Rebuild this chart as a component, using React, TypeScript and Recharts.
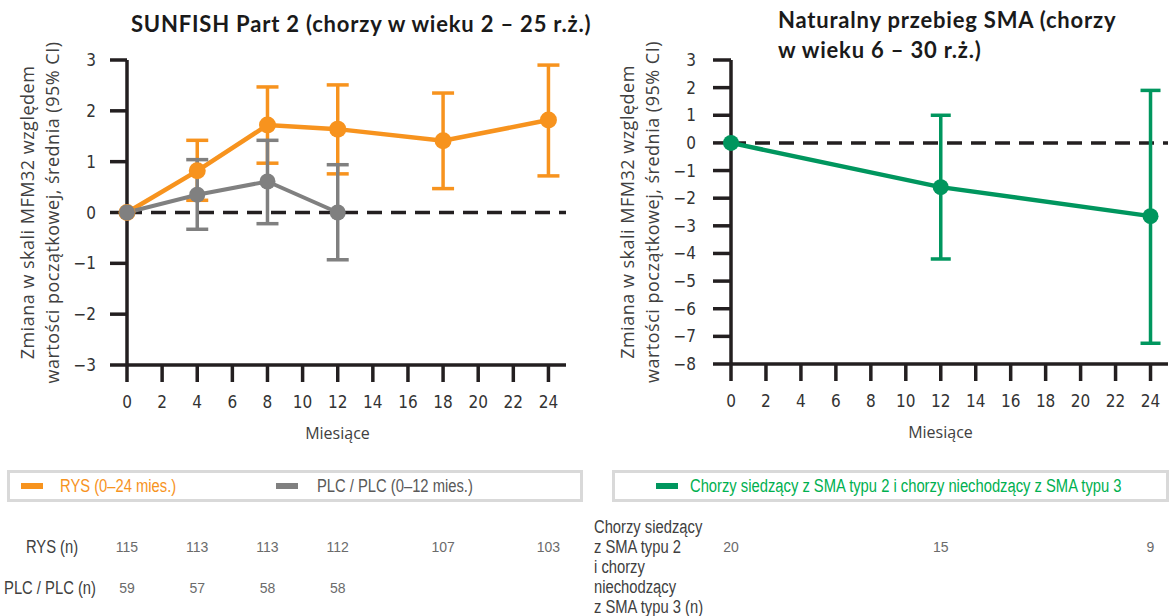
import React from "react";
import { LineChart, Line, XAxis, YAxis, ErrorBar, ReferenceLine } from "recharts";

// SUNFISH part 2 – RYS arm
const rysMonths = [0, 4, 8, 12, 18, 24];
const rysMean = [0, 0.82, 1.72, 1.64, 1.41, 1.82];
const rysLow = [null, 0.24, 0.97, 0.76, 0.47, 0.72];
const rysHigh = [null, 1.42, 2.47, 2.51, 2.35, 2.9];
const rysN = [115, 113, 113, 112, 107, 103];

// SUNFISH part 2 – PLC / PLC arm
const plcMonths = [0, 4, 8, 12];
const plcMean = [0, 0.35, 0.61, 0.0];
const plcLow = [null, -0.33, -0.22, -0.93];
const plcHigh = [null, 1.04, 1.42, 0.94];
const plcN = [59, 57, 58, 58];

// natural history cohort
const smaMonths = [0, 12, 24];
const smaMean = [0, -1.6, -2.65];
const smaLow = [null, -4.2, -7.25];
const smaHigh = [null, 1.0, 1.9];
const smaN = [20, 15, 9];

const monthTicks = [0, 2, 4, 6, 8, 10, 12, 14, 16, 18, 20, 22, 24];
const leftYTicks = [-3, -2, -1, 0, 1, 2, 3];
const rightYTicks = [-8, -7, -6, -5, -4, -3, -2, -1, 0, 1, 2, 3];

const ORANGE = "#f7931e";
const GRAY = "#808080";
const GREEN = "#00965e";
const INK = "#231f20";
const ARIAL = '"Liberation Sans", Arial, sans-serif';
const COND = '"DejaVu Sans Condensed", "DejaVu Sans", sans-serif';
const SANS = '"Open Sans", "Noto Sans", sans-serif';

const build = (months: number[], mean: number[], low: (number | null)[], high: (number | null)[]) =>
  months.map((m, i) => ({
    month: m,
    y: mean[i],
    err: low[i] == null ? null : [mean[i] - (low[i] as number), (high[i] as number) - mean[i]],
  }));

const rysData = build(rysMonths, rysMean, rysLow, rysHigh);
const plcData = build(plcMonths, plcMean, plcLow, plcHigh);
const smaData = build(smaMonths, smaMean, smaLow, smaHigh);

const fmtMinus = (v: number) => String(v).replace("-", "\u2212");

const YTitle = (props: any) => {
  const { viewBox, xs, lines } = props;
  const cy = viewBox.y + viewBox.height / 2;
  return (
    <g>
      {lines.map((t: string, i: number) => (
        <text
          key={i}
          x={xs[i]}
          y={cy}
          transform={`rotate(-90 ${xs[i]} ${cy})`}
          textAnchor="middle"
          dominantBaseline="central"
          fill="#404040"
          fontSize={18}
          letterSpacing={0.5}
          fontFamily={SANS}
        >
          {t}
        </text>
      ))}
    </g>
  );
};

const XTitle = (props: any) => {
  const { viewBox, dx } = props;
  return (
    <text x={viewBox.x + viewBox.width / 2 + dx} y={viewBox.y + 74} textAnchor="middle" fill="#404040" fontSize={16} fontFamily={SANS}>
      Miesiące
    </text>
  );
};

const yLabelLines = ["Zmiana w skali MFM32 względem", "wartości początkowej, średnia (95% CI)"];
const tickStyle = { fill: "#333", fontSize: 17, fontFamily: COND };
const axisLine = { stroke: INK, strokeWidth: 3.5 };

// n-per-visit row, placed under the plot through the x scale
const countRow = (months: number[], n: number[], offset: number, id: string) =>
  months.map((m, i) => (
    <ReferenceLine
      key={`${id}-${m}`}
      x={m}
      stroke="none"
      label={{ value: String(n[i]), position: "bottom", offset, fill: "#6b6b6b", fontSize: 14, fontFamily: ARIAL }}
    />
  ));

function SunfishChart() {
  return (
    <LineChart width={590} height={616} margin={{ top: 60, right: 24, left: 0, bottom: 151 }}>
      <XAxis
        dataKey="month"
        type="number"
        domain={[0, 25]}
        ticks={monthTicks}
        interval={0}
        height={100}
        tickSize={17}
        tickMargin={14}
        axisLine={axisLine}
        tickLine={axisLine}
        tick={tickStyle}
        label={<XTitle dx={-9} />}
      />
      <YAxis
        type="number"
        domain={[-3, 3]}
        ticks={leftYTicks}
        interval={0}
        width={127}
        tickSize={17}
        tickMargin={14}
        axisLine={axisLine}
        tickLine={axisLine}
        tick={tickStyle}
        tickFormatter={fmtMinus}
        label={<YTitle xs={[27, 52]} lines={yLabelLines} />}
      />
      <ReferenceLine y={0} stroke={INK} strokeWidth={3.5} strokeDasharray="15 9" />
      {countRow(rysMonths, rysN, 177, "rys")}
      {countRow(plcMonths, plcN, 218, "plc")}
      <Line
        data={rysData}
        dataKey="y"
        stroke={ORANGE}
        strokeWidth={4.5}
        dot={{ r: 8.5, fill: ORANGE, stroke: ORANGE, strokeWidth: 0 }}
        isAnimationActive={false}
      >
        <ErrorBar dataKey="err" width={11} stroke={ORANGE} strokeWidth={3.5} direction="y" />
      </Line>
      <Line
        data={plcData}
        dataKey="y"
        stroke={GRAY}
        strokeWidth={4}
        dot={{ r: 8, fill: GRAY, stroke: GRAY, strokeWidth: 0 }}
        isAnimationActive={false}
      >
        <ErrorBar dataKey="err" width={11} stroke={GRAY} strokeWidth={3.5} direction="y" />
      </Line>
    </LineChart>
  );
}

function NaturalChart() {
  return (
    <LineChart width={580} height={616} margin={{ top: 60, right: 2, left: 0, bottom: 152 }}>
      <XAxis
        dataKey="month"
        type="number"
        domain={[0, 25]}
        ticks={monthTicks}
        interval={0}
        height={100}
        tickSize={17}
        tickMargin={14}
        axisLine={axisLine}
        tickLine={axisLine}
        tick={tickStyle}
        label={<XTitle dx={-9} />}
      />
      <YAxis
        type="number"
        domain={[-8, 3]}
        ticks={rightYTicks}
        interval={0}
        width={141}
        tickSize={18}
        tickMargin={17}
        axisLine={axisLine}
        tickLine={axisLine}
        tick={tickStyle}
        tickFormatter={fmtMinus}
        label={<YTitle xs={[37, 62]} lines={yLabelLines} />}
      />
      <ReferenceLine y={0} stroke={INK} strokeWidth={3.5} strokeDasharray="15 9" />
      {countRow(smaMonths, smaN, 178, "sma")}
      <Line
        data={smaData}
        dataKey="y"
        stroke={GREEN}
        strokeWidth={4.5}
        dot={{ r: 8, fill: GREEN, stroke: GREEN, strokeWidth: 0 }}
        isAnimationActive={false}
      >
        <ErrorBar dataKey="err" width={10} stroke={GREEN} strokeWidth={3.5} direction="y" />
      </Line>
    </LineChart>
  );
}

// Arial squeezed to look like Arial Narrow
function Narrow({
  x,
  y,
  align = "left",
  color,
  size = 18,
  children,
}: {
  x: number;
  y: number;
  align?: "left" | "center";
  color: string;
  size?: number;
  children: React.ReactNode;
}) {
  const centered = align === "center";
  return (
    <div
      style={{
        position: "absolute",
        left: x,
        top: y,
        fontFamily: ARIAL,
        fontSize: size,
        lineHeight: "20px",
        color,
        whiteSpace: "nowrap",
        transformOrigin: centered ? "50% 50%" : "0 50%",
        transform: centered ? "translate(-50%, -50%) scaleX(0.82)" : "translateY(-50%) scaleX(0.82)",
      }}
    >
      {children}
    </div>
  );
}

const swatch = (color: string, left: number): React.CSSProperties => ({
  position: "absolute",
  left,
  top: 483,
  width: 22,
  height: 6,
  background: color,
});

const box = (left: number, width: number): React.CSSProperties => ({
  position: "absolute",
  left,
  top: 470,
  width,
  height: 32,
  boxSizing: "border-box",
  border: "3px solid #d9d9d9",
});

const smaRowLabel = ["Chorzy siedzący", "z SMA typu 2", "i chorzy", "niechodzący", "z SMA typu 3 (n)"];

export default function App() {
  return (
    <div style={{ position: "absolute", left: 0, top: 0, width: 1170, height: 616, background: "#fff", overflow: "hidden" }}>
      <div style={{ position: "absolute", left: 0, top: 0 }}>
        <SunfishChart />
      </div>
      <div style={{ position: "absolute", left: 590, top: 0 }}>
        <NaturalChart />
      </div>
      <div
        style={{
          position: "absolute",
          left: 131,
          top: 10,
          fontFamily: "Lato, sans-serif",
          fontWeight: 700,
          fontSize: 22,
          letterSpacing: 0.8,
          lineHeight: "28px",
          color: "#1a1a1a",
          whiteSpace: "nowrap",
        }}
      >
        SUNFISH Part 2 (chorzy w wieku 2 – 25 r.ż.)
      </div>
      <div
        style={{
          position: "absolute",
          left: 778,
          top: 5,
          fontFamily: "Lato, sans-serif",
          fontWeight: 700,
          fontSize: 22,
          letterSpacing: 0.8,
          lineHeight: "30px",
          color: "#1a1a1a",
          whiteSpace: "nowrap",
        }}
      >
        Naturalny przebieg SMA (chorzy
        <br />w wieku 6 – 30 r.ż.)
      </div>

      <div style={box(7, 576)} />
      <div style={swatch(ORANGE, 21)} />
      <Narrow x={60} y={486} color={ORANGE}>RYS (0–24 mies.)</Narrow>
      <div style={swatch(GRAY, 276)} />
      <Narrow x={317} y={486} color="#595959">PLC / PLC (0–12 mies.)</Narrow>

      <div style={box(612, 557)} />
      <div style={swatch(GREEN, 656)} />
      <Narrow x={690} y={486} color="#00b050">Chorzy siedzący z SMA typu 2 i chorzy niechodzący z SMA typu 3</Narrow>

      <Narrow x={52} y={547} align="center" color="#404040">RYS (n)</Narrow>
      <Narrow x={50} y={588} align="center" color="#404040">PLC / PLC (n)</Narrow>
      {smaRowLabel.map((t, i) => (
        <Narrow key={t} x={594} y={527 + i * 20} color="#404040">
          {t}
        </Narrow>
      ))}
    </div>
  );
}
